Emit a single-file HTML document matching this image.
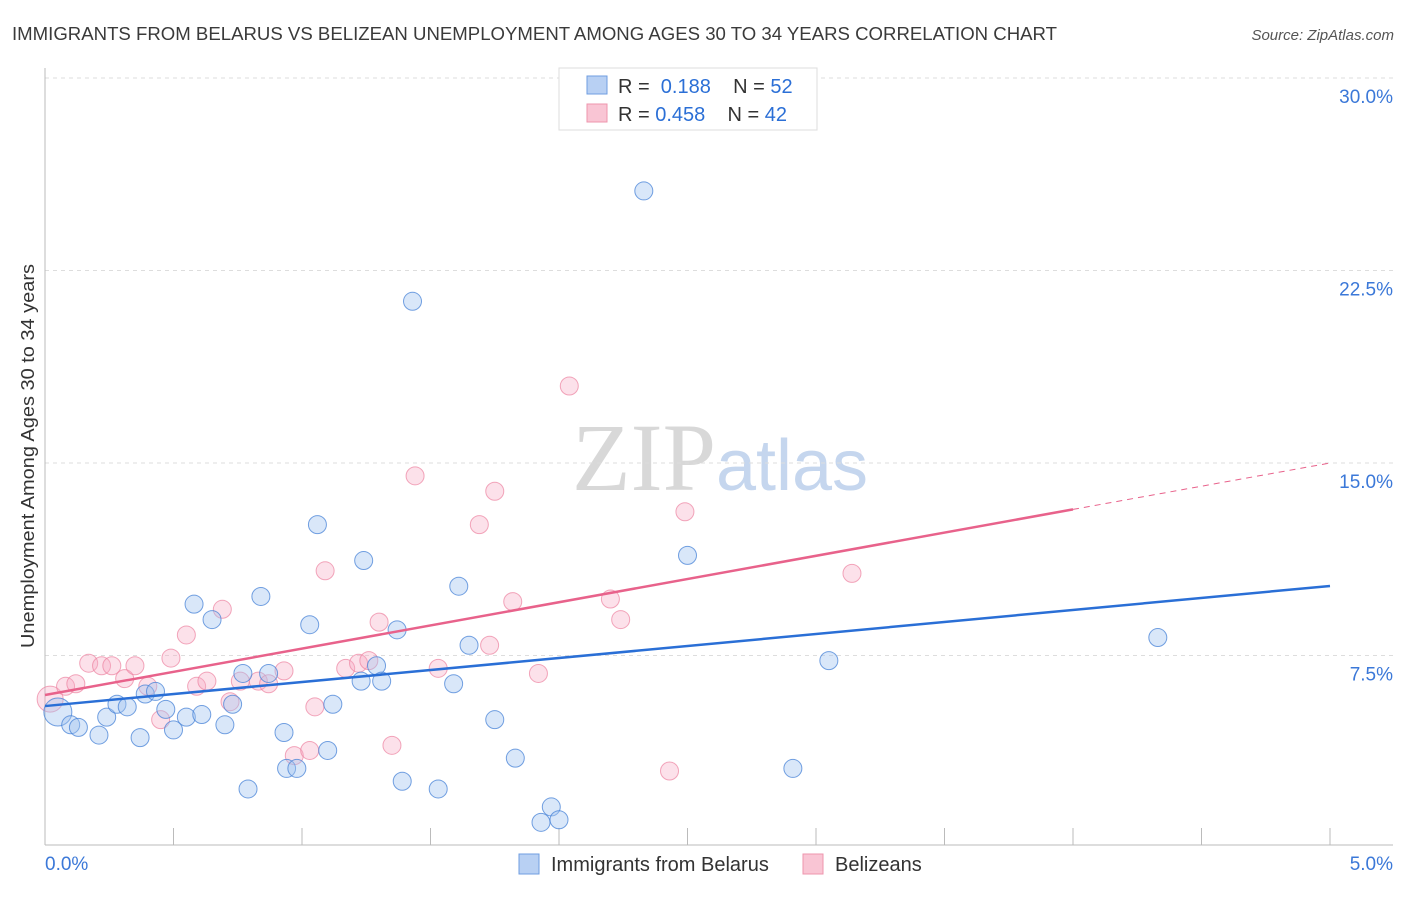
<!DOCTYPE html>
<html><head><meta charset="utf-8"><style>
body{margin:0;background:#fff;font-family:"Liberation Sans",sans-serif}
</style></head><body>
<svg id="chart" width="1406" height="892" xmlns="http://www.w3.org/2000/svg" font-family="Liberation Sans, sans-serif">
<text x="12" y="40" font-size="18" fill="#3a3a3a" textLength="1045" lengthAdjust="spacingAndGlyphs">IMMIGRANTS FROM BELARUS VS BELIZEAN UNEMPLOYMENT AMONG AGES 30 TO 34 YEARS CORRELATION CHART</text>
<text x="1394" y="40" font-size="15" fill="#555" text-anchor="end" font-style="italic">Source: ZipAtlas.com</text>
<text x="720" y="490" font-size="96" text-anchor="middle" fill="#d8d8d8" font-family="Liberation Serif, serif">ZIP<tspan fill="#c5d6ee" font-family="Liberation Sans, sans-serif" font-size="72">atlas</tspan></text>
<text transform="translate(34,456) rotate(-90)" font-size="18" fill="#333" text-anchor="middle" textLength="384" lengthAdjust="spacingAndGlyphs">Unemployment Among Ages 30 to 34 years</text>
<g id="grid"></g><g id="pts"></g><g id="lines"></g>
<g>
<rect x="559" y="68" width="258" height="62" fill="#fff" stroke="#ddd"/>
<rect x="587" y="76" width="20" height="18" fill="#b8d0f3" stroke="#6f9ee0"/>
<rect x="587" y="104" width="20" height="18" fill="#f9c5d4" stroke="#ee95ad"/>
<text x="618" y="93" font-size="20" fill="#333">R = <tspan fill="#2b6fd6">&#160;0.188</tspan>&#160;&#160;&#160; N = <tspan fill="#2b6fd6">52</tspan></text>
<text x="618" y="121" font-size="20" fill="#333">R = <tspan fill="#2b6fd6">0.458</tspan>&#160;&#160;&#160; N = <tspan fill="#2b6fd6">42</tspan></text>
</g>
<g>
<rect x="519" y="854" width="20" height="20" fill="#b8d0f3" stroke="#6f9ee0"/>
<text x="551" y="871" font-size="20" fill="#333">Immigrants from Belarus</text>
<rect x="803" y="854" width="20" height="20" fill="#f9c5d4" stroke="#ee95ad"/>
<text x="835" y="871" font-size="20" fill="#333">Belizeans</text>
</g>
</svg>
<script>
const blueX=[0.05,0.10,0.13,0.21,0.24,0.28,0.32,0.37,0.39,0.43,0.47,0.50,0.55,0.58,0.61,0.65,0.70,0.73,0.77,0.79,0.84,0.87,0.93,0.94,0.98,1.03,1.06,1.10,1.12,1.23,1.24,1.29,1.31,1.37,1.39,1.43,1.53,1.59,1.61,1.65,1.75,1.83,1.93,1.97,2.00,2.33,2.50,2.91,3.05,4.33];
const blueY=[5.3,4.8,4.7,4.4,5.1,5.6,5.5,4.3,6.0,6.1,5.4,4.6,5.1,9.5,5.2,8.9,4.8,5.6,6.8,2.3,9.8,6.8,4.5,3.1,3.1,8.7,12.6,3.8,5.6,6.5,11.2,7.1,6.5,8.5,2.6,21.3,2.3,6.4,10.2,7.9,5.0,3.5,1.0,1.6,1.1,25.6,11.4,3.1,7.3,8.2];
const pinkX=[0.02,0.08,0.12,0.17,0.22,0.26,0.31,0.35,0.40,0.45,0.49,0.55,0.59,0.63,0.69,0.72,0.76,0.83,0.87,0.93,0.97,1.03,1.05,1.09,1.17,1.22,1.26,1.30,1.35,1.44,1.53,1.69,1.73,1.75,1.82,1.92,2.04,2.20,2.24,2.43,2.49,3.14];
const pinkY=[5.8,6.3,6.4,7.2,7.1,7.1,6.6,7.1,6.3,5.0,7.4,8.3,6.3,6.5,9.3,5.7,6.5,6.5,6.4,6.9,3.6,3.8,5.5,10.8,7.0,7.2,7.3,8.8,4.0,14.5,7.0,12.6,7.9,13.9,9.6,6.8,18.0,9.7,8.9,3.0,13.1,10.7];
const blueFit=[5.53,10.21];
const pinkFit=[5.96,15.0];
const yTicks=[7.5,15,22.5,30];
const yTickLabels=["7.5%","15.0%","22.5%","30.0%"];
const NS="http://www.w3.org/2000/svg";
const X=v=>45+v/5*1285, Y=v=>848-v/7.5*192.5;
function mk(t,a,p){const e=document.createElementNS(NS,t);for(const k in a)e.setAttribute(k,a[k]);p.appendChild(e);return e;}
const g=document.getElementById('grid');
yTicks.forEach((t,i)=>{
 const l=mk('line',{x1:45,x2:1393,y1:Y(t),y2:Y(t),stroke:'#ddd','stroke-dasharray':'4,4'},g);
 
 
 const tx=mk('text',{x:1393,y:Y(t)+25,'font-size':19,fill:'#3b78d8','text-anchor':'end'},g);tx.textContent=yTickLabels[i];
 
 
});
const ax=mk('line',{x1:45,x2:45,y1:68,y2:845,stroke:'#bbb'},g);


const bx=mk('line',{x1:45,x2:1393,y1:845,y2:845,stroke:'#bbb'},g);


for(let i=1;i<=10;i++){const t=mk('line',{x1:X(i*0.5),x2:X(i*0.5),y1:828,y2:845,stroke:'#bbb'},g);
 
 }
[[0,"0.0%","start",45],[5,"5.0%","end",1393]].forEach(d=>{const t=mk('text',{x:d[3],y:870,'font-size':19,fill:'#3b78d8','text-anchor':d[2]},g);t.textContent=d[1];
 
 });
const p=document.getElementById('pts');
pinkX.forEach((v,i)=>{const c=mk('circle',{cx:X(v),cy:Y(pinkY[i]),r:i==0?13:9,fill:'rgba(247,170,195,0.35)',stroke:'rgba(236,130,160,0.7)'},p);
 
 });
blueX.forEach((v,i)=>{const c=mk('circle',{cx:X(v),cy:Y(blueY[i]),r:i==0?14:9,fill:'rgba(160,195,240,0.4)',stroke:'rgba(70,130,215,0.75)'},p);
 
 });
const L=document.getElementById('lines');
const bl=mk('line',{x1:X(0),y1:Y(blueFit[0]),x2:X(5),y2:Y(blueFit[1]),stroke:'#2a6fd6','stroke-width':2.5},L);


const pf=x=>pinkFit[0]+(pinkFit[1]-pinkFit[0])*x/5;
const pl=mk('line',{x1:X(0),y1:Y(pf(0)),x2:X(4),y2:Y(pf(4)),stroke:'#e8628b','stroke-width':2.5},L);


const pd=mk('line',{x1:X(4),y1:Y(pf(4)),x2:X(5),y2:Y(pf(5)),stroke:'#e8628b','stroke-width':1,'stroke-dasharray':'6,5'},L);


</script>
</body></html>
